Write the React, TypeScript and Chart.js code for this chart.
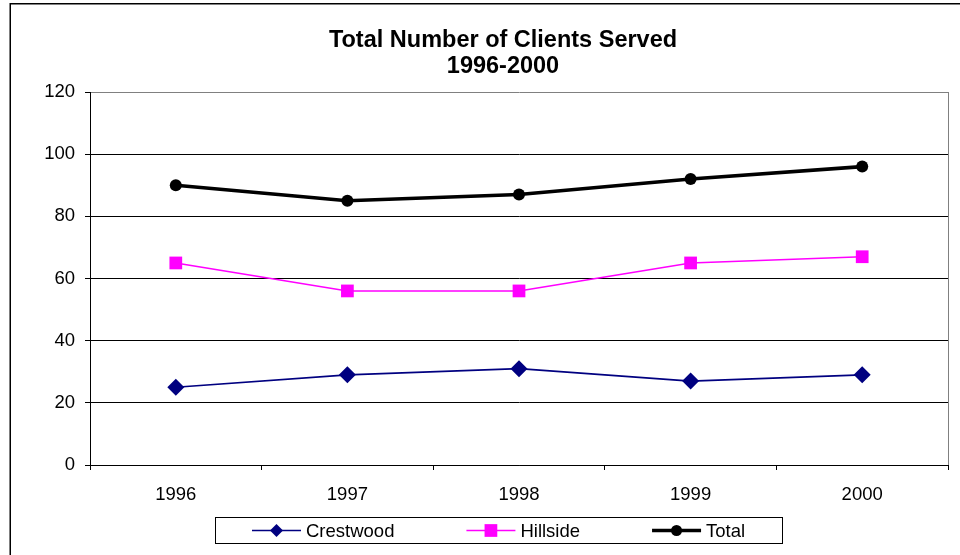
import React, { useEffect, useRef } from 'react';
import { Chart, registerables } from 'chart.js';

Chart.register(...registerables);

const categories = ['1996', '1997', '1998', '1999', '2000'];
const crestwood = [25, 29, 31, 27, 29];
const hillside = [65, 56, 56, 65, 67];
const total = [90, 85, 87, 92, 96];
const yTicks = [0, 20, 40, 60, 80, 100, 120];
const titleLines = ['Total Number of Clients Served', '1996-2000'];
const seriesNames = ['Crestwood', 'Hillside', 'Total'];

const FONT = '"Liberation Sans", Arial, Helvetica, sans-serif';

function drawMarker(ctx: CanvasRenderingContext2D, style: string, x: number, y: number, r: number, color: string) {
  ctx.save();
  ctx.fillStyle = color;
  ctx.beginPath();
  if (style === 'rectRot') {
    ctx.moveTo(x, y - r);
    ctx.lineTo(x + r, y);
    ctx.lineTo(x, y + r);
    ctx.lineTo(x - r, y);
    ctx.closePath();
  } else if (style === 'rect') {
    const s = r * Math.SQRT1_2;
    ctx.rect(x - s, y - s, 2 * s, 2 * s);
  } else {
    ctx.arc(x, y, r, 0, Math.PI * 2);
  }
  ctx.fill();
  ctx.restore();
}

const framePlugin = {
  id: 'excelFrame',
  beforeDraw(chart: any) {
    const ctx = chart.ctx as CanvasRenderingContext2D;
    ctx.save();
    ctx.fillStyle = '#ffffff';
    ctx.fillRect(0, 0, chart.width, chart.height);
    ctx.fillStyle = '#000000';
    ctx.fillRect(10, 3, chart.width - 10, 1.5);
    ctx.fillRect(9.5, 3, 1.5, chart.height - 3);
    ctx.restore();
  },
  afterDraw(chart: any) {
    const ctx = chart.ctx as CanvasRenderingContext2D;
    const area = chart.chartArea;
    ctx.save();
    // plot area right border (gray)
    ctx.strokeStyle = '#808080';
    ctx.lineWidth = 1;
    ctx.beginPath();
    ctx.moveTo(Math.round(area.right) + 0.5, area.top);
    ctx.lineTo(Math.round(area.right) + 0.5, area.bottom);
    ctx.stroke();

    // title
    ctx.fillStyle = '#000';
    ctx.font = `bold 23.5px ${FONT}`;
    ctx.textAlign = 'center';
    ctx.textBaseline = 'alphabetic';
    const cx = 503;
    ctx.fillText(titleLines[0], cx, 47);
    ctx.fillText(titleLines[1], cx, 73);

    // legend
    ctx.font = `18.5px ${FONT}`;
    ctx.textAlign = 'left';
    const lineLen = 49;
    const gapText = 5;
    const itemGap = 72;
    const padX = 37;
    const items = chart.data.datasets.map((ds: any) => ({
      label: ds.label,
      color: ds.borderColor,
      style: ds.pointStyle,
      r: ds.legendRadius,
      lw: ds.borderWidth,
      tw: ctx.measureText(ds.label).width,
    }));
    let content = 0;
    items.forEach((it: any, i: number) => {
      content += lineLen + gapText + it.tw + (i < items.length - 1 ? itemGap : 0);
    });
    const boxW = content + padX * 2;
    const boxCx = 499;
    const boxL = Math.round(boxCx - boxW / 2);
    const boxT = 517;
    const boxH = 26;
    ctx.strokeStyle = '#000';
    ctx.lineWidth = 1;
    ctx.strokeRect(boxL + 0.5, boxT + 0.5, Math.round(boxW), boxH);
    let x = boxL + padX;
    const ly = boxT + boxH / 2 + 0.5;
    items.forEach((it: any) => {
      ctx.strokeStyle = it.color;
      ctx.lineWidth = it.lw;
      ctx.beginPath();
      ctx.moveTo(x, ly);
      ctx.lineTo(x + lineLen, ly);
      ctx.stroke();
      drawMarker(ctx, it.style, x + lineLen / 2, ly, it.r, it.color);
      ctx.fillStyle = '#000';
      ctx.textBaseline = 'alphabetic';
      ctx.fillText(it.label, x + lineLen + gapText, 537);
      x += lineLen + gapText + it.tw + itemGap;
    });
    ctx.restore();
  },
};

export default function App() {
  const ref = useRef<HTMLCanvasElement | null>(null);
  useEffect(() => {
    if (!ref.current) return;
    const chart = new Chart(ref.current, {
      type: 'line',
      data: {
        labels: categories,
        datasets: [
          {
            label: seriesNames[0],
            data: crestwood,
            borderColor: '#000080',
            backgroundColor: '#000080',
            borderWidth: 1.6,
            pointStyle: 'rectRot',
            pointRadius: 8.5,
            pointBorderWidth: 0,
            pointBackgroundColor: '#000080',
            legendRadius: 6.5,
            tension: 0,
          } as any,
          {
            label: seriesNames[1],
            data: hillside,
            borderColor: '#FF00FF',
            backgroundColor: '#FF00FF',
            borderWidth: 1.6,
            pointStyle: 'rect',
            pointRadius: 9,
            pointBorderWidth: 0,
            pointBackgroundColor: '#FF00FF',
            legendRadius: 9,
            tension: 0,
          } as any,
          {
            label: seriesNames[2],
            data: total,
            borderColor: '#000000',
            backgroundColor: '#000000',
            borderWidth: 3.6,
            pointStyle: 'circle',
            pointRadius: 6,
            pointBorderWidth: 0,
            pointBackgroundColor: '#000000',
            legendRadius: 5.5,
            tension: 0,
          } as any,
        ],
      },
      options: {
        responsive: false,
        animation: false,
        devicePixelRatio: 1,
        layout: { padding: { left: 0, right: 12, top: 92, bottom: 0 } },
        plugins: {
          legend: { display: false },
          title: { display: false },
          tooltip: { enabled: false },
        },
        scales: {
          x: {
            type: 'category',
            offset: true,
            afterFit(scale: any) {
              scale.height = 90;
            },
            grid: {
              offset: true,
              drawOnChartArea: false,
              drawTicks: true,
              tickLength: 5,
              color: '#000',
              tickColor: '#000',
            },
            border: { display: true, color: '#000', width: 1 },
            ticks: {
              color: '#000',
              padding: 14,
              maxRotation: 0,
              font: { family: FONT, size: 18.5 },
            },
          },
          y: {
            min: 0,
            max: 120,
            afterFit(scale: any) {
              scale.width = 90;
            },
            afterBuildTicks(scale: any) {
              scale.ticks = yTicks.map((v) => ({ value: v }));
            },
            grid: {
              color: (c: any) => (c.tick && c.tick.value === 120 ? '#808080' : '#000'),
              tickColor: '#000',
              tickLength: 5,
              lineWidth: 1,
            },
            border: { display: true, color: '#000', width: 1 },
            ticks: {
              color: '#000',
              padding: 10,
              font: { family: FONT, size: 18.5 },
              callback: (v: any) => String(v),
            },
          },
        },
      } as any,
      plugins: [framePlugin],
    });
    return () => chart.destroy();
  }, []);
  return (
    <div style={{ position: 'fixed', left: 0, top: 0, width: 960, height: 555, background: '#fff' }}>
      <canvas ref={ref} width={960} height={555} style={{ display: 'block', width: 960, height: 555 }} />
    </div>
  );
}
